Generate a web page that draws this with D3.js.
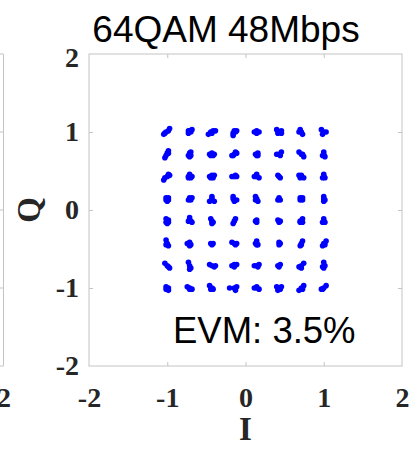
<!DOCTYPE html>
<html>
<head>
<meta charset="utf-8">
<script src="https://cdn.jsdelivr.net/npm/d3@7"></script>
<style>
  html, body { margin: 0; padding: 0; background: #fff; }
  svg { display: block; }
</style>
</head>
<body>
<svg id="chart" width="416" height="450"></svg>
<script>
// ---------- DATA ----------
const titleText = "64QAM 48Mbps";
const evmText = "EVM: 3.5%";
const xLabel = "I";
const yLabel = "Q";
const axisTicks = [-2, -1, 0, 1, 2];
const innerTicks = [-1, 0, 1];
const prevPanelTicks = [2]; // only the last label of the neighbouring panel is visible
// ideal 64QAM levels (normalised), I (left->right) and Q (top->bottom)
const iLevels = [-1, -0.714, -0.429, -0.143, 0.143, 0.429, 0.714, 1];
const qLevels = [1, 0.714, 0.429, 0.143, -0.143, -0.429, -0.714, -1];
// received samples per constellation point: offsets [dI, dQ] from the ideal point,
// in units of 0.015. rows = qLevels, columns = iLevels
const offsetUnit = 0.015;
const clusterOffsets = [
  [ [[-3,-2],[-1,0],[1,1],[2,3],[-2,-1]], [[-1,-1],[0,1],[2,2],[-1,1],[1,0]], [[-3,-2],[-1,0],[1,1],[3,1],[0,-1]], [[0,1],[2,1],[-1,-1],[-1,-3],[1,0]],
    [[-2,0],[0,1],[2,0],[0,-1]], [[-2,2],[0,0],[2,1],[-1,-1],[2,-1]], [[-1,2],[0,0],[1,-2],[-2,0]], [[-2,2],[0,0],[2,0],[-1,-2]] ],
  [ [[1,3],[0,1],[-1,-1],[-2,-3],[1,1]], [[0,1],[-1,-1],[1,-1],[0,-2],[1,2]], [[-2,0],[0,1],[2,0],[1,-1],[-1,-1]], [[-2,-1],[0,0],[2,1],[1,2],[-1,-1]],
    [[-1,0],[1,1],[0,-1],[1,-1]], [[-2,0],[0,0],[2,2],[1,-1]], [[-2,2],[0,0],[2,-2],[1,0]], [[0,2],[0,0],[1,-2],[-1,-1]] ],
  [ [[1,2],[0,0],[-2,-1],[-3,-3],[2,1]], [[0,2],[-1,0],[1,-1],[2,0],[-1,-1]], [[-2,0],[0,1],[2,1],[1,-1],[-1,-1]], [[-2,0],[0,0],[2,0],[1,1]],
    [[-2,0],[0,2],[0,0],[2,-1]], [[-1,1],[0,0],[1,-1]], [[-2,1],[0,1],[2,-1],[-1,-1]], [[0,2],[0,0],[1,-1],[-1,-1]] ],
  [ [[-1,1],[1,1],[-1,-1],[1,-1],[0,-2]], [[0,1],[-1,-1],[1,-1],[2,1]], [[0,2],[0,0],[-2,-2],[2,-2]], [[-1,2],[-1,0],[0,-2],[2,-1]],
    [[-1,2],[0,0],[1,-2],[-1,-1]], [[0,1],[-1,-1],[1,-1]], [[-1,1],[1,1],[-1,-1],[1,-1]], [[0,2],[0,0],[0,-2],[1,-1]] ],
  [ [[-1,2],[1,1],[-1,-1],[1,-1],[0,-2]], [[0,3],[-1,0],[1,0],[2,-1]], [[-1,2],[0,0],[0,-2],[1,-1]], [[1,2],[0,0],[-1,-2]],
    [[0,1],[0,-1],[-1,0]], [[-1,1],[1,0],[0,-1]], [[-1,0],[1,2],[1,-1],[-1,-1]], [[0,2],[0,0],[-1,-1],[1,-1]] ],
  [ [[-1,3],[0,0],[-1,-1],[1,-2]], [[-2,0],[0,1],[1,-1],[0,-2]], [[-1,0],[1,0],[0,-1]], [[-2,1],[0,0],[2,0],[1,-1]],
    [[0,2],[-1,0],[0,-1],[1,-1]], [[0,1],[0,-1],[1,0]], [[1,2],[0,0],[-1,-2],[0,-1]], [[2,2],[0,0],[-1,-2],[1,-1]] ],
  [ [[-2,2],[0,0],[1,-1],[2,-2]], [[-1,3],[0,0],[1,-2],[0,-3]], [[-2,1],[0,0],[2,-1],[3,0]], [[-2,0],[0,1],[2,1],[0,-1]],
    [[-2,0],[0,0],[2,1],[1,-1]], [[-1,0],[1,1],[0,-1]], [[2,2],[0,0],[-2,-1],[0,-2]], [[0,3],[1,0],[0,-2],[-1,-1]] ],
  [ [[-1,1],[1,0],[-1,-1],[1,-2]], [[-2,1],[0,0],[2,-1],[0,-1]], [[-2,2],[0,0],[1,-1],[-1,-1]], [[-4,0],[0,0],[2,1],[1,-2]],
    [[-2,0],[0,0],[2,-1],[0,1]], [[-2,1],[0,0],[2,1],[-1,-2],[1,-1]], [[2,2],[0,0],[-2,-2],[1,-1]], [[2,2],[0,0],[-2,-1],[-1,-1]] ]
];

// build sample list
const samples = [];
clusterOffsets.forEach((row, r) => row.forEach((pts, c) => pts.forEach(o => {
  samples.push({ I: iLevels[c] + o[0] * offsetUnit, Q: qLevels[r] + o[1] * offsetUnit });
})));

// ---------- LAYOUT ----------
const svg = d3.select("#chart");
const x = d3.scaleLinear().domain([-2, 2]).range([89, 402]);
const y = d3.scaleLinear().domain([-2, 2]).range([366, 54]);
const plotW = x.range()[1] - x.range()[0];
// partial neighbouring panel to the left (only its right edge is visible)
const xPrev = d3.scaleLinear().domain([-2, 2]).range([3.5 - plotW, 3.5]);

const boxColor = "#c4c4c4";
const tickLabelColor = "#262626";
const serif = "'Liberation Serif', 'Times New Roman', serif";
const sans = "'Liberation Sans', Arial, sans-serif";

// left neighbour panel edge
svg.append("path")
  .attr("d", `M0,${y(2)}H${xPrev(2)}V${y(-2)}H0`)
  .attr("fill", "none").attr("stroke", boxColor).attr("stroke-width", 1);
svg.selectAll(".prevTick").data(innerTicks).enter().append("line")
  .attr("x1", xPrev(2)).attr("x2", xPrev(2) - 4)
  .attr("y1", d => y(d)).attr("y2", d => y(d))
  .attr("stroke", boxColor);
const prevLabels = svg.append("g")
  .attr("transform", `translate(0,${y(-2)})`)
  .call(d3.axisBottom(xPrev).tickValues(prevPanelTicks).tickSize(0).tickPadding(21).tickFormat(d3.format("d")));
prevLabels.select(".domain").remove();

// main box
svg.append("rect")
  .attr("x", x(-2)).attr("y", y(2))
  .attr("width", x(2) - x(-2)).attr("height", y(-2) - y(2))
  .attr("fill", "none").attr("stroke", boxColor).attr("stroke-width", 1);

// inner tick marks
function tickMarks(axis, transform) {
  const g = svg.append("g").attr("transform", transform)
    .call(axis.tickValues(innerTicks).tickSize(-4).tickFormat(""));
  g.select(".domain").remove();
  g.selectAll("line").attr("stroke", boxColor);
}
tickMarks(d3.axisBottom(x), `translate(0,${y(-2)})`);
tickMarks(d3.axisTop(x), `translate(0,${y(2)})`);
tickMarks(d3.axisLeft(y), `translate(${x(-2)},0)`);
tickMarks(d3.axisRight(y), `translate(${x(2)},0)`);

// tick labels
const xLab = svg.append("g").attr("transform", `translate(0,${y(-2)})`)
  .call(d3.axisBottom(x).tickValues(axisTicks).tickSize(0).tickPadding(21).tickFormat(d3.format("d")));
const yLab = svg.append("g").attr("transform", `translate(${x(-2)},0)`)
  .call(d3.axisLeft(y).tickValues(axisTicks).tickSize(0).tickPadding(10).tickFormat(d3.format("d")));
[xLab, yLab, prevLabels].forEach(g => {
  g.select(".domain").remove();
  g.selectAll("text")
    .attr("font-family", serif).attr("font-weight", "bold")
    .attr("font-size", 28).attr("fill", tickLabelColor)
    .text(d => d < 0 ? "-" + Math.abs(d) : String(d));
});
// top label sits a little lower in the reference
yLab.selectAll(".tick").filter(d => d === 2).select("text").attr("dy", "0.46em");

// samples
svg.append("g").selectAll("circle").data(samples).enter().append("circle")
  .attr("cx", d => x(d.I)).attr("cy", d => y(d.Q))
  .attr("r", 2.8).attr("fill", "#0000ff");

// axis titles
svg.append("text")
  .attr("x", x(0)).attr("y", 440)
  .attr("text-anchor", "middle")
  .attr("font-family", serif).attr("font-weight", "bold")
  .attr("font-size", 33).attr("fill", tickLabelColor)
  .text(xLabel);
svg.append("text")
  .attr("transform", `translate(40,${y(0)}) rotate(-90)`)
  .attr("text-anchor", "middle")
  .attr("font-family", serif).attr("font-weight", "bold")
  .attr("font-size", 33).attr("fill", tickLabelColor)
  .text(yLabel);

// title
svg.append("text")
  .attr("x", 226).attr("y", 42)
  .attr("text-anchor", "middle")
  .attr("font-family", sans).attr("font-size", 37).attr("fill", "#000")
  .text(titleText);

// EVM annotation
svg.append("text")
  .attr("x", 173).attr("y", 343)
  .attr("font-family", sans).attr("font-size", 36.5).attr("fill", "#000")
  .text(evmText);
</script>
</body>
</html>
